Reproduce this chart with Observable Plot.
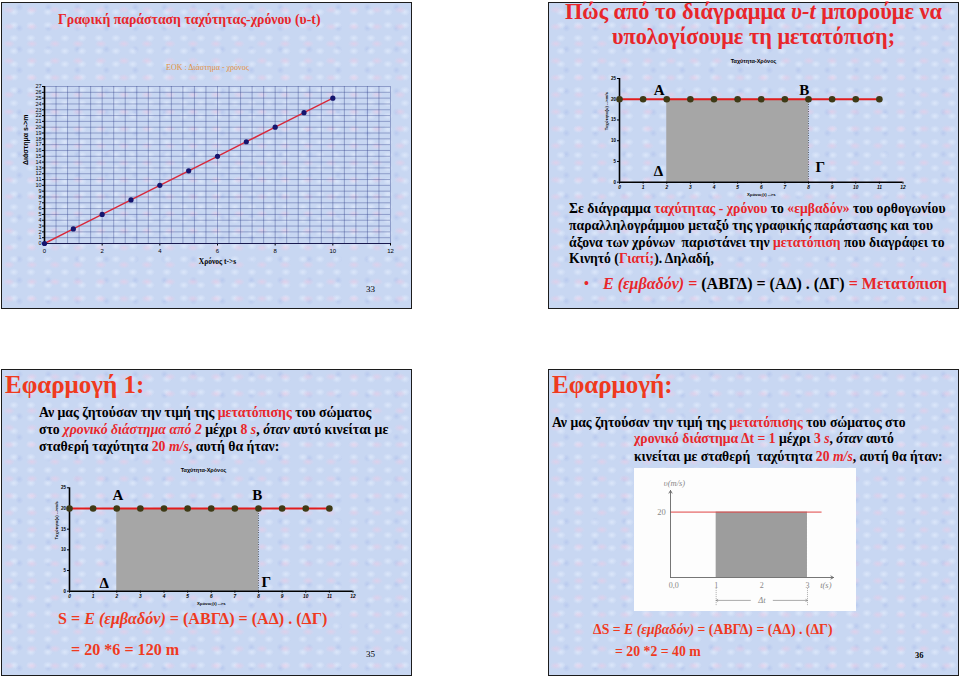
<!DOCTYPE html>
<html><head><meta charset="utf-8">
<script src="https://cdn.jsdelivr.net/npm/d3@7"></script>
<script src="https://cdn.jsdelivr.net/npm/@observablehq/plot@0.6"></script>
<style>
html,body{margin:0;padding:0;background:#fff;}
body{width:960px;height:679px;position:relative;overflow:hidden;font-family:"Liberation Serif",serif;}
.slide{position:absolute;box-sizing:border-box;border:1.5px solid #1c1c1c;
 background-color:#c8d7f2;
 background-image:
  radial-gradient(ellipse at 30% 40%, rgba(236,204,230,.6) 0, rgba(236,204,230,0) 6px),
  radial-gradient(ellipse at 70% 70%, rgba(226,236,252,.75) 0, rgba(226,236,252,0) 5px),
  radial-gradient(ellipse at 60% 20%, rgba(176,194,236,.6) 0, rgba(176,194,236,0) 4px);
 background-size:23px 17px,17px 13px,29px 21px;}
.a{position:absolute;white-space:nowrap;line-height:1;font-weight:bold;color:#000;}
.r{color:#e8262a;}
.o{color:#ef3a1e;}
i{font-style:italic;}
.plot{position:absolute;}
</style></head>
<body>
<div class="slide" style="left:1px;top:2px;width:411px;height:307px"></div>
<div class="slide" style="left:548px;top:2px;width:411px;height:307px"></div>
<div class="slide" style="left:1px;top:369px;width:411px;height:307px"></div>
<div class="slide" style="left:548px;top:369px;width:411px;height:307px"></div>

<!-- slide 1 -->
<div class="a r" style="left:58px;top:13px;font-size:13.8px">Γραφική παράσταση ταχύτητας-χρόνου (υ-t)</div>
<div class="a" style="left:166px;top:63.5px;font-size:8px;font-weight:normal;color:#e39040">ΕΟΚ : Διάστημα - χρόνος</div>
<div class="a" style="left:366px;top:285px;font-size:9px;font-weight:normal">33</div>

<!-- slide 2 -->
<div class="a r" style="left:548px;width:411px;top:-1px;font-size:22.3px;line-height:25px;text-align:center;white-space:normal">Πώς από το διάγραμμα <i>υ-t</i> μπορούμε να<br>υπολογίσουμε τη μετατόπιση;</div>
<div class="a" style="left:548px;width:411px;text-align:center;top:59px;font-size:5.5px;font-family:'Liberation Sans',sans-serif">Ταχύτητα-Χρόνος</div>
<div class="a" style="left:569px;top:202px;font-size:13.7px">Σε διάγραμμα <span class="r">ταχύτητας - χρόνου</span> το <span class="r">«εμβαδόν»</span> του ορθογωνίου</div>
<div class="a" style="left:569px;top:219px;font-size:13.7px">παραλληλογράμμου μεταξύ της γραφικής παράστασης και του</div>
<div class="a" style="left:569px;top:235.5px;font-size:13.7px">άξονα των χρόνων &nbsp;παριστάνει την <span class="r">μετατόπιση</span> που διαγράφει το</div>
<div class="a" style="left:569px;top:252px;font-size:13.7px">Κινητό (<span class="r">Γιατί;</span>). Δηλαδή,</div>
<div class="a r" style="left:584px;top:277px;font-size:14px">•</div>
<div class="a" style="left:603px;top:276px;font-size:16px"><span class="r"><i>Ε (εμβαδόν)</i> =</span> (ΑΒΓΔ) = (ΑΔ) . (ΔΓ) <span class="r">= Μετατόπιση</span></div>

<!-- slide 3 -->
<div class="a o" style="left:5px;top:372px;font-size:25px">Εφαρμογή 1:</div>
<div class="a" style="left:39px;top:406px;font-size:13.8px">Αν μας ζητούσαν την τιμή της <span class="r">μετατόπισης</span> του σώματος</div>
<div class="a" style="left:39px;top:423px;font-size:13.8px">στο <span class="r"><i>χρονικό διάστημα από 2</i></span> μέχρι <span class="r">8 <i>s</i></span>, <i>όταν</i> αυτό κινείται με</div>
<div class="a" style="left:39px;top:439.5px;font-size:13.8px">σταθερή ταχύτητα <span class="r">20 <i>m/s</i></span>, αυτή θα ήταν:</div>
<div class="a" style="width:411px;text-align:center;top:468px;font-size:5.5px;font-family:'Liberation Sans',sans-serif;left:-2px">Ταχύτητα-Χρόνος</div>
<div class="a o" style="left:58px;top:610.5px;font-size:16.1px">S = <i>Ε (εμβαδόν)</i> = (ΑΒΓΔ) = (ΑΔ) . (ΔΓ)</div>
<div class="a o" style="left:71px;top:642px;font-size:16.1px">= 20 *6 = 120 m</div>
<div class="a" style="left:366px;top:650px;font-size:9px;font-weight:normal">35</div>

<!-- slide 4 -->
<div class="a o" style="left:552px;top:372px;font-size:25px">Εφαρμογή:</div>
<div class="a" style="left:552px;top:415.5px;font-size:13.7px">Αν μας ζητούσαν την τιμή της <span class="r">μετατόπισης</span> του σώματος στο</div>
<div class="a" style="left:634px;top:432px;font-size:13.7px"><span class="r">χρονικό διάστημα Δt = 1</span> μέχρι <span class="r">3 <i>s</i></span>, <i>όταν</i> αυτό</div>
<div class="a" style="left:634px;top:449.5px;font-size:13.7px">κινείται με σταθερή &nbsp;ταχύτητα <span class="r">20 <i>m/s</i></span>, αυτή θα ήταν:</div>
<div class="a o" style="left:593px;top:623px;font-size:13.8px">ΔS = <i>Ε (εμβαδόν)</i> = (ΑΒΓΔ) = (ΑΔ) . (ΔΓ)</div>
<div class="a o" style="left:615px;top:645px;font-size:13.8px">= 20 *2 = 40 m</div>
<div class="a" style="left:915px;top:651px;font-size:8.5px">36</div>

<div id="c1" class="plot" style="left:0px;top:70px"></div>
<div id="c2" class="plot" style="left:590px;top:70px"></div>
<div id="c3" class="plot" style="left:40px;top:478px"></div>
<div id="c4" class="plot" style="left:634px;top:468px"></div>

<script>
// ---- Chart 1: distance - time (uniform motion)
const distTime = [0, 1, 2, 3, 4, 5, 6, 7, 8, 9, 10];
const distance = [0, 2.5, 5, 7.5, 10, 12.5, 15, 17.5, 20, 22.5, 25];
const distXTicks = [0, 2, 4, 6, 8, 10, 12];
const distYTicks = [0,1,2,3,4,5,6,7,8,9,10,11,12,13,14,15,16,17,18,19,20,21,22,23,24,25,26,27];
const distXLabel = "Χρόνος t->s";
const distYLabel = "Διάστημα s->m";

// ---- Charts 2 & 3: velocity - time
const velTime = [0, 1, 2, 3, 4, 5, 6, 7, 8, 9, 10, 11];
const velocity = [20, 20, 20, 20, 20, 20, 20, 20, 20, 20, 20, 20];
const velXTicks = [0, 1, 2, 3, 4, 5, 6, 7, 8, 9, 10, 11, 12];
const velYTicks = [0, 5, 10, 15, 20, 25];
const velXLabel = "Χρόνος(t) -->s";
const velYLabel = "Ταχύτητα(υ) -->m/s";
const areaStart = 2, areaEnd = 8, areaVel = 20;
const cornerNames = ["Α", "Β", "Γ", "Δ"];
const corners2X = [1.68, 7.82, 8.5, 1.65];
const corners2Y = [22.1, 22.2, 3.6, 2.6];
const corners3X = [2.05, 7.95, 8.33, 1.47];
const corners3Y = [23.1, 23.1, 2.1, 1.9];

// ---- Chart 4: textbook v-t diagram
const appTime = [0, 3.3];
const appVel = [20, 20];
const appStart = 1, appEnd = 3;
const appXTicks = [0.07, 1, 2, 3];
const appXTickLabels = ["0,0", "1", "2", "3"];
const appYTicks = [20];

const sans = "Liberation Sans, Arial, sans-serif";
const serif = "Liberation Serif, Times New Roman, serif";

// Chart 1
const pts1 = distTime.map((t, i) => ({t, s: distance[i]}));
const gridX1 = d3.range(0, 12.0001, 0.4);
const c1 = Plot.plot({
  width: 410, height: 210,
  marginLeft: 44, marginRight: 20, marginTop: 16, marginBottom: 37,
  x: {domain: [0, 12]}, y: {domain: [0, 27]},
  style: {background: "transparent", fontFamily: sans, fontSize: "5.5px", color: "#000", overflow: "visible"},
  marks: [
    Plot.gridX(gridX1, {stroke: "#34448c", strokeOpacity: 0.5, strokeWidth: 0.8}),
    Plot.gridY(distYTicks, {stroke: "#34448c", strokeOpacity: 0.5, strokeWidth: 0.8}),
    Plot.axisY(distYTicks, {tickSize: 2, tickPadding: 1, label: null, fontSize: 5.5}),
    Plot.axisX(distXTicks, {tickSize: 2.5, tickPadding: 3, label: null, fontSize: 6}),
    Plot.ruleX([0], {stroke: "#000", strokeWidth: 1.6}),
    Plot.ruleY([0], {stroke: "#1a1a50", strokeWidth: 1.2}),
    Plot.text([distXLabel], {frameAnchor: "bottom", dy: 20, fontFamily: serif, fontWeight: "bold", fontSize: 7.5}),
    Plot.text([distYLabel], {frameAnchor: "left", dx: -19, rotate: -90, fontFamily: sans, fontWeight: "bold", fontSize: 7}),
    Plot.line(pts1, {x: "t", y: "s", stroke: "#d8283a", strokeWidth: 1.4}),
    Plot.dot(pts1, {x: "t", y: "s", r: 2.6, fill: "#15156e", stroke: "none"})
  ]
});
document.getElementById("c1").append(c1);

// Charts 2 and 3
function velChart(cx, cy, mTop, mBottom) {
  const pts = velTime.map((t, i) => ({t, v: velocity[i]}));
  const corners = cornerNames.map((n, i) => ({n, x: cx[i], y: cy[i]}));
  return Plot.plot({
    width: 330, height: 135,
    marginLeft: 29, marginRight: 17.5, marginTop: mTop, marginBottom: mBottom,
    x: {domain: [0, 12]}, y: {domain: [0, 25]},
    style: {background: "transparent", fontFamily: sans, fontSize: "5px", color: "#000", overflow: "visible"},
    marks: [
      Plot.rect([{x1: areaStart, x2: areaEnd, y2: areaVel}], {x1: "x1", x2: "x2", y1: 0, y2: "y2", fill: "#a6a6a6"}),
      Plot.ruleX([areaEnd], {y1: 0, y2: areaVel, stroke: "#333", strokeWidth: 0.8, strokeDasharray: "1,1.4"}),
      Plot.axisY(velYTicks, {tickSize: 2, tickPadding: 1.5, label: null, fontSize: 4.5, fontWeight: "bold"}),
      Plot.axisX(velXTicks, {tickSize: 2, tickPadding: 1.5, label: null, fontSize: 4.8, fontWeight: "bold", fontStyle: "italic"}),
      Plot.ruleX([0], {stroke: "#000", strokeWidth: 1.6}),
      Plot.ruleY([0], {stroke: "#000", strokeWidth: 1.6}),
      Plot.text([velXLabel], {frameAnchor: "bottom", dy: 14, fontSize: 4.3, fontWeight: "bold"}),
      Plot.text([velYLabel], {frameAnchor: "left", dx: -13, rotate: -90, fontSize: 4.3, fontWeight: "bold"}),
      Plot.line(pts, {x: "t", y: "v", stroke: "#e21c1c", strokeWidth: 2}),
      Plot.dot(pts, {x: "t", y: "v", r: 3.3, fill: "#3e3a16", stroke: "none"}),
      Plot.text(corners, {x: "x", y: "y", text: "n", fontFamily: serif, fontWeight: "bold", fontSize: 15, fill: "#000"})
    ]
  });
}
document.getElementById("c2").append(velChart(corners2X, corners2Y, 8, 23.3));
document.getElementById("c3").append(velChart(corners3X, corners3Y, 9.3, 22.3));

// Chart 4
const pts4 = appTime.map((t, i) => ({t, v: appVel[i]}));
const ticks4 = appXTicks.map((x, i) => ({x, label: appXTickLabels[i]}));
const c4 = Plot.plot({
  width: 222, height: 143,
  marginLeft: 36, marginRight: 23, marginTop: 22, marginBottom: 34,
  x: {domain: [0, 3.57], axis: null}, y: {domain: [0, 26.6], axis: null},
  style: {background: "#fdfdfd", fontFamily: serif, fontSize: "8px", color: "#777", overflow: "visible"},
  marks: [
    Plot.rect([{x1: appStart, x2: appEnd, y2: appVel[0]}], {x1: "x1", x2: "x2", y1: 0, y2: "y2", fill: "#9d9d9d"}),
    Plot.ruleX([appEnd], {y1: 0, y2: appVel[0], stroke: "#fff", strokeWidth: 0.8, strokeDasharray: "1.5,1.5"}),
    Plot.line(pts4, {x: "t", y: "v", stroke: "#e04444", strokeWidth: 1}),
    Plot.arrow([{x1: 0, y1: 0, x2: 0, y2: 26.6}], {x1: "x1", y1: "y1", x2: "x2", y2: "y2", stroke: "#666", strokeWidth: 0.9, headLength: 5}),
    Plot.arrow([{x1: 0, y1: 0, x2: 3.57, y2: 0}], {x1: "x1", y1: "y1", x2: "x2", y2: "y2", stroke: "#666", strokeWidth: 0.9, headLength: 5}),
    Plot.text(ticks4, {x: "x", y: 0, text: "label", dy: 8, fill: "#888", fontSize: 8}),
    Plot.text(appYTicks, {x: 0, y: (d) => d, text: (d) => String(d), dx: -9, fill: "#888", fontSize: 8.5}),
    Plot.text(["t(s)"], {frameAnchor: "right", dx: -2, y: 0, dy: 8, fill: "#888", fontSize: 8.5, fontStyle: "italic"}),
    Plot.text(["υ(m/s)"], {x: 0, y: 26.6, dy: -7, dx: 4, fill: "#888", fontSize: 8.5, fontStyle: "italic"}),
    Plot.ruleX([appStart, appEnd], {y1: -3.4, y2: -8.8, stroke: "#888", strokeWidth: 0.7, strokeDasharray: "1,1"}),
    Plot.arrow([{x1: 1.75, x2: appStart}, {x1: 2.25, x2: appEnd}], {x1: "x1", x2: "x2", y1: -7, y2: -7, stroke: "#888", strokeWidth: 0.7, headLength: 4}),
    Plot.text(["Δt"], {x: (appStart + appEnd) / 2, y: -7, fill: "#888", fontSize: 8.5, fontStyle: "italic"})
  ]
});
document.getElementById("c4").append(c4);
</script>
</body></html>
